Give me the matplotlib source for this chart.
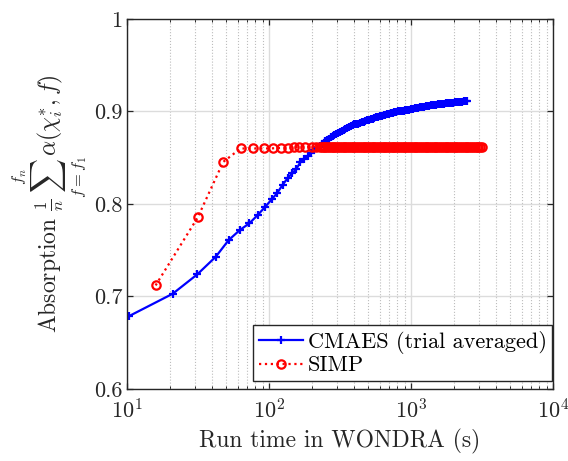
import matplotlib
matplotlib.use("Agg")
import matplotlib.pyplot as plt
from matplotlib.ticker import FixedLocator, FuncFormatter, LogLocator

# Fuente tipo LaTeX (Computer Modern incluida en matplotlib)
plt.rcParams['font.family'] = 'cmr10'
plt.rcParams['mathtext.fontset'] = 'cm'
plt.rcParams['axes.formatter.use_mathtext'] = True

# Datos: tiempo (s) y absorción media
CMAES_T = [10.4, 21.0, 31.3, 42.2, 52.0, 62.5, 72.6, 83.2, 94.1, 104.5,
           114.4, 125.0, 135.5, 145.0, 156.0, 166, 177, 187, 198, 208,
           218, 228, 235, 242, 249, 257, 264, 272, 280, 289,
           297, 306, 315, 325, 335, 345, 355, 366, 377, 388,
           400, 412, 424, 437, 450, 463, 477, 491, 506, 521,
           537, 553, 570, 587, 604, 622, 641, 660, 680, 700,
           721, 743, 765, 788, 812, 836, 861, 887, 914, 941,
           969, 998, 1028, 1059, 1091, 1124, 1157, 1192, 1228, 1265,
           1302, 1342, 1382, 1423, 1466, 1510, 1555, 1602, 1650, 1699,
           1750, 1803, 1857, 1913, 1970, 2029, 2090, 2153, 2217, 2284,
           2352, 2423, 2470]
CMAES_Y = [0.679, 0.703, 0.724, 0.743, 0.761, 0.772, 0.779, 0.788, 0.797, 0.805,
           0.812, 0.821, 0.828, 0.833, 0.838, 0.845, 0.849, 0.852, 0.855, 0.858,
           0.861, 0.863, 0.865, 0.866, 0.868, 0.869, 0.870, 0.872, 0.873, 0.875,
           0.876, 0.877, 0.878, 0.879, 0.880, 0.881, 0.882, 0.883, 0.884, 0.885,
           0.886, 0.887, 0.887, 0.888, 0.889, 0.889, 0.890, 0.891, 0.891, 0.892,
           0.892, 0.893, 0.894, 0.894, 0.895, 0.895, 0.896, 0.896, 0.897, 0.897,
           0.898, 0.898, 0.899, 0.899, 0.900, 0.900, 0.901, 0.901, 0.902, 0.902,
           0.902, 0.903, 0.903, 0.904, 0.904, 0.904, 0.905, 0.905, 0.905, 0.906,
           0.906, 0.906, 0.907, 0.907, 0.907, 0.907, 0.908, 0.908, 0.908, 0.908,
           0.909, 0.909, 0.909, 0.909, 0.909, 0.910, 0.910, 0.910, 0.910, 0.910,
           0.911, 0.911, 0.911]

SIMP_T = [15.9, 31.5, 47.6, 63.1, 77.5, 92.5, 107, 121, 135, 150,
          163, 179, 200, 215, 228, 235, 242, 249, 257, 264,
          272, 280, 289, 297, 306, 315, 325, 335, 345, 355,
          366, 377, 388, 400, 412, 424, 437, 450, 463, 477,
          491, 506, 521, 537, 553, 570, 587, 604, 622, 641,
          660, 680, 700, 721, 743, 765, 788, 812, 836, 861,
          887, 914, 941, 969, 998, 1028, 1059, 1091, 1124, 1157,
          1192, 1228, 1265, 1302, 1342, 1382, 1423, 1466, 1510, 1555,
          1602, 1650, 1699, 1750, 1803, 1857, 1913, 1970, 2029, 2090,
          2153, 2217, 2284, 2352, 2423, 2496, 2570, 2648, 2727, 2809,
          2893, 2980, 3069, 3140]
SIMP_Y = ([0.712, 0.7855, 0.8455, 0.8600, 0.8600, 0.8600, 0.8602, 0.8605,
           0.8608, 0.8612, 0.8618, 0.862, 0.862, 0.862]
          + [0.862] * 90)

ETIQUETAS = ['CMAES (trial averaged)', 'SIMP']
Y_TICKS = [0.6, 0.7, 0.8, 0.9, 1.0]

fig = plt.figure(figsize=(5.68, 4.61), dpi=100)
ax = fig.add_axes([0.2236, 0.1562, 0.7500, 0.8026])

ax.plot(CMAES_T, CMAES_Y, '-', color='#0000ff', lw=1.6, marker='+',
        ms=6, mew=1.6, label=ETIQUETAS[0])
ax.plot(SIMP_T, SIMP_Y, ':', color='#ff0000', lw=1.6, marker='o',
        ms=6, mew=1.6, mfc='none', label=ETIQUETAS[1])

ax.set_xscale('log')
ax.set_xlim(10, 1e4)
ax.set_ylim(0.6, 1.0)
ax.yaxis.set_major_locator(FixedLocator(Y_TICKS))
ax.yaxis.set_major_formatter(FuncFormatter(lambda v, p: f'{v:g}'))
ax.xaxis.set_major_locator(LogLocator(base=10, numticks=10))
ax.xaxis.set_minor_locator(LogLocator(base=10, subs=range(2, 10), numticks=10))

# Rejilla estilo MATLAB
ax.grid(True, which='major', color='#dcdcdc', lw=1.0, ls='-')
ax.grid(True, which='minor', axis='x', color='#bdbdbd', lw=0.8, ls=':')
ax.set_axisbelow(True)

for s in ax.spines.values():
    s.set_color('#262626')
    s.set_linewidth(1.0)
ax.tick_params(which='both', direction='in', top=True, right=True,
               colors='#262626', labelsize=16)
ax.tick_params(which='major', length=4.5, width=0.9)
ax.tick_params(which='minor', length=2.5, width=0.7)
ax.tick_params(axis='x', pad=7)

ax.set_xlabel('Run time in WONDRA (s)', fontsize=17, color='#262626')
ax.set_ylabel(r'Absorption $\frac{1}{n}\sum_{f=f_1}^{f_n}\alpha(\chi_i^{*},f)$',
              fontsize=17, color='#262626', labelpad=3)

leg = ax.legend(loc='lower right', bbox_to_anchor=(0.998, 0.022),
                borderaxespad=0, fontsize=16, frameon=True, fancybox=False,
                edgecolor='#262626', handlelength=2.0, handletextpad=0.2,
                borderpad=0.25, labelspacing=0.1)
leg.get_frame().set_linewidth(1.0)
leg.get_frame().set_alpha(1.0)

fig.savefig('out.png', dpi=100)
